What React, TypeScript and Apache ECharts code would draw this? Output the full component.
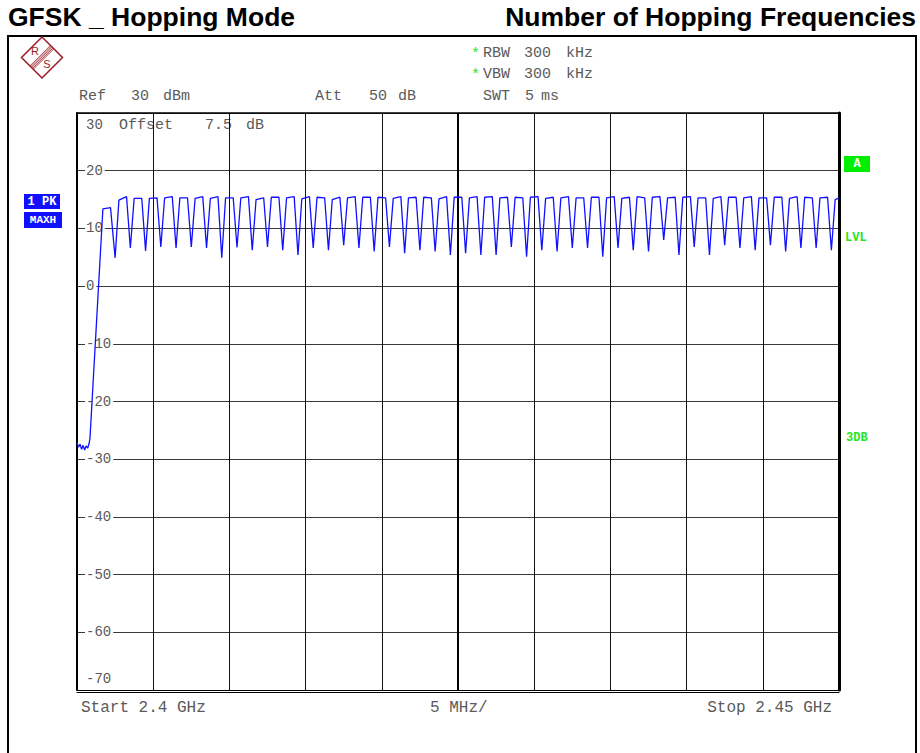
import React, { useEffect, useRef } from 'react';
import * as echarts from 'echarts';

// ---- data (MHz / dBm) ----
const FLOOR_MHZ = [2400.0, 2400.1, 2400.2, 2400.3, 2400.4, 2400.5, 2400.6, 2400.7, 2400.8];
const FLOOR_DBM = [-27.1, -27.9, -27.4, -28.3, -27.6, -28.4, -27.7, -28.1, -27.2];
const RAMP_MHZ = [2400.85, 2401.7, 2402.2];
const RAMP_DBM = [-26.4, 13.4, 13.6];
const DIP_MHZ = [
  2402.5, 2403.5, 2404.5, 2405.5, 2406.5, 2407.5, 2408.5, 2409.5, 2410.5, 2411.5,
  2412.5, 2413.5, 2414.5, 2415.5, 2416.5, 2417.5, 2418.5, 2419.5, 2420.5, 2421.5,
  2422.5, 2423.5, 2424.5, 2425.5, 2426.5, 2427.5, 2428.5, 2429.5, 2430.5, 2431.5,
  2432.5, 2433.5, 2434.5, 2435.5, 2436.5, 2437.5, 2438.5, 2439.5, 2440.5, 2441.5,
  2442.5, 2443.5, 2444.5, 2445.5, 2446.5, 2447.5, 2448.5, 2449.5,
];
const DIP_DBM = [
  4.9, 6.6, 6.1, 6.8, 6.6, 6.8, 6.6, 4.9, 6.7, 6.2,
  6.8, 6.2, 5.4, 6.6, 6.2, 7.1, 6.6, 6.0, 6.8, 5.7,
  6.2, 6.0, 5.4, 5.7, 5.4, 5.4, 6.8, 5.1, 6.2, 6.0,
  6.6, 6.6, 5.1, 6.6, 6.2, 6.0, 8.0, 5.4, 6.8, 5.4,
  7.1, 6.6, 6.2, 7.1, 6.0, 6.6, 6.6, 6.2,
];
const CHANNEL_MHZ = [
  2403, 2404, 2405, 2406, 2407, 2408, 2409, 2410, 2411, 2412,
  2413, 2414, 2415, 2416, 2417, 2418, 2419, 2420, 2421, 2422,
  2423, 2424, 2425, 2426, 2427, 2428, 2429, 2430, 2431, 2432,
  2433, 2434, 2435, 2436, 2437, 2438, 2439, 2440, 2441, 2442,
  2443, 2444, 2445, 2446, 2447, 2448, 2449,
];
const TOP_LEFT_DBM = [
  14.9, 15.2, 15.2, 15.3, 15.3, 15.2, 15.2, 15.3, 15.3, 15.0,
  15.4, 15.3, 15.1, 15.4, 15.0, 15.3, 15.4, 15.4, 15.2, 15.3,
  15.4, 15.1, 15.4, 15.3, 15.4, 15.3, 15.4, 15.4, 15.2, 15.3,
  15.3, 15.4, 15.3, 15.2, 15.5, 15.4, 15.3, 15.4, 15.3, 15.2,
  15.4, 15.3, 15.3, 15.4, 15.2, 15.4, 15.3,
];
const TOP_RIGHT_DBM = [
  15.5, 15.2, 15.3, 15.5, 15.3, 15.5, 15.5, 15.3, 15.5, 15.3,
  15.4, 15.5, 15.5, 15.3, 15.4, 15.5, 15.4, 15.3, 15.5, 15.4,
  15.3, 15.5, 15.4, 15.5, 15.5, 15.4, 15.3, 15.5, 15.4, 15.5,
  15.3, 15.4, 15.5, 15.4, 15.3, 15.5, 15.4, 15.5, 15.3, 15.5,
  15.4, 15.5, 15.3, 15.4, 15.5, 15.3, 15.4,
];
const END_MHZ = [2449.75, 2450];
const END_DBM = [15.0, 15.3];

const X_MIN = 2400;
const X_MAX = 2450;
const Y_MIN = -70;
const Y_MAX = 30;

function buildTrace(): number[][] {
  const pts: number[][] = [];
  FLOOR_MHZ.forEach((f, i) => pts.push([f, FLOOR_DBM[i]]));
  RAMP_MHZ.forEach((f, i) => pts.push([f, RAMP_DBM[i]]));
  DIP_MHZ.forEach((f, i) => {
    pts.push([f, DIP_DBM[i]]);
    if (i < CHANNEL_MHZ.length) {
      const c = CHANNEL_MHZ[i];
      pts.push([c - 0.25, TOP_LEFT_DBM[i]]);
      pts.push([c + 0.25, TOP_RIGHT_DBM[i]]);
    }
  });
  END_MHZ.forEach((f, i) => pts.push([f, END_DBM[i]]));
  return pts;
}

const MONO = '"Liberation Mono", "DejaVu Sans Mono", monospace';
const GRAY = '#5a5a5a';
const GREEN = '#22e622';
const BLUE = '#1010ff';

function monoText(text: string, x: number, y: number, fill = GRAY, size = 15, extra: any = {}) {
  return {
    type: 'text',
    silent: true,
    style: { text, x, y, fill, font: `${size}px ${MONO}`, align: 'left', verticalAlign: 'middle', ...extra },
  };
}

export default function App() {
  const ref = useRef<HTMLDivElement>(null);

  useEffect(() => {
    document.body.style.margin = '0';
    const chart = echarts.init(ref.current!, undefined, { renderer: 'svg' });
    const logoColor = '#9b1c23';
    const stripes = [-2.4, -1.2, 0, 1.2, 2.4].map((o) => ({
      type: 'line',
      silent: true,
      shape: { x1: 31.5 + o * 0.707, y1: 67.75 + o * 0.707, x2: 52 + o * 0.707, y2: 47.25 + o * 0.707 },
      style: { stroke: logoColor, lineWidth: 0.8 },
    }));

    const option: any = {
      animation: false,
      backgroundColor: '#ffffff',
      grid: { left: 77, top: 113, width: 762, height: 577, outerBoundsMode: 'none' },
      xAxis: [
        {
          type: 'value', position: 'bottom', min: X_MIN, max: X_MAX, interval: 5,
          axisLine: { show: true, onZero: false, lineStyle: { color: '#000', width: 1 } },
          axisTick: { show: false }, axisLabel: { show: false },
          splitLine: { show: true, lineStyle: { color: '#111', width: 1 } },
        },
        {
          type: 'value', position: 'top', min: X_MIN, max: X_MAX,
          axisLine: { show: true, onZero: false, lineStyle: { color: '#000', width: 1.5 } },
          axisTick: { show: false }, axisLabel: { show: false }, splitLine: { show: false },
        },
        {
          type: 'value', position: 'bottom', offset: 2, min: X_MIN, max: X_MAX, interval: 25,
          axisLine: { show: true, onZero: false, lineStyle: { color: '#000', width: 1 } },
          axisTick: { show: false }, axisLabel: { show: false },
          splitLine: { show: true, lineStyle: { color: '#000', width: 2 } },
        },
      ],
      yAxis: [
        {
          type: 'value', position: 'left', min: Y_MIN, max: Y_MAX, interval: 10,
          axisLine: { show: true, onZero: false, lineStyle: { color: '#000', width: 2 } },
          axisTick: { show: false }, axisLabel: { show: false },
          splitLine: { show: true, lineStyle: { color: '#3a3a3a', width: 1 } },
        },
        {
          type: 'value', position: 'left', min: Y_MIN, max: Y_MAX, interval: 10, z: 1,
          axisLine: { show: false, onZero: false }, axisTick: { show: false }, splitLine: { show: false },
          axisLabel: {
            show: true, inside: true, margin: 8,
            formatter: (v: number) => (v === Y_MAX ? `{t|${v}}` : v === Y_MIN ? `{b|${v}}` : `{m|${v}}`),
            rich: {
              t: { fontFamily: MONO, fontSize: 14, color: GRAY, padding: [24, 0, 0, 1] },
              b: { fontFamily: MONO, fontSize: 14, color: GRAY, padding: [0, 0, 22, 1] },
              m: { fontFamily: MONO, fontSize: 14, color: GRAY, backgroundColor: '#fff', padding: [0, 2, 0, 1] },
            },
          },
        },
        {
          type: 'value', position: 'right', min: Y_MIN, max: Y_MAX,
          axisLine: { show: true, onZero: false, lineStyle: { color: '#000', width: 3 } },
          axisTick: { show: false }, axisLabel: { show: false }, splitLine: { show: false },
        },
      ],
      series: [
        {
          type: 'line',
          xAxisIndex: 0,
          yAxisIndex: 0,
          data: buildTrace(),
          showSymbol: false,
          symbol: 'none',
          lineStyle: { color: BLUE, width: 1.3 },
          z: 3,
        },
      ],
      graphic: [
        // titles
        { type: 'text', silent: true, style: { text: 'GFSK _ Hopping Mode', x: 8, y: 17, fill: '#000', font: 'bold 26.5px "Liberation Sans", Arial, sans-serif', align: 'left', verticalAlign: 'middle' } },
        { type: 'text', silent: true, style: { text: 'Number of Hopping Frequencies', x: 916, y: 17, fill: '#000', font: 'bold 26.5px "Liberation Sans", Arial, sans-serif', align: 'right', verticalAlign: 'middle' } },
        // outer frame
        { type: 'rect', silent: true, shape: { x: 8, y: 36, width: 908, height: 740 }, style: { fill: 'none', stroke: '#000', lineWidth: 2 } },
        // R&S logo
        { type: 'polygon', silent: true, shape: { points: [[42, 37], [62.5, 57.5], [42, 78], [21.5, 57.5]] }, style: { fill: 'none', stroke: logoColor, lineWidth: 1.5 } },
        ...stripes,
        { type: 'text', silent: true, style: { text: 'R', x: 35, y: 51, fill: logoColor, font: '11px "Liberation Sans", sans-serif', align: 'center', verticalAlign: 'middle' } },
        { type: 'text', silent: true, style: { text: 'S', x: 47, y: 64, fill: logoColor, font: '11px "Liberation Sans", sans-serif', align: 'center', verticalAlign: 'middle' } },
        // header settings
        monoText('*', 471, 54, GREEN, 15),
        monoText('RBW', 483, 53), monoText('300', 524, 53), monoText('kHz', 566, 53),
        monoText('*', 471, 75, GREEN, 15),
        monoText('VBW', 483, 74), monoText('300', 524, 74), monoText('kHz', 566, 74),
        monoText('Ref', 79, 96), monoText('30', 131, 96), monoText('dBm', 163, 96),
        monoText('Att', 315, 96), monoText('50', 369, 96), monoText('dB', 398, 96),
        monoText('SWT', 483, 96), monoText('5', 525, 96), monoText('ms', 541, 96),
        monoText('Offset', 119, 125), monoText('7.5', 205, 125), monoText('dB', 246, 125),
        // bottom annotations
        monoText('Start 2.4 GHz', 81, 708, GRAY, 16),
        monoText('5 MHz/', 430, 708, GRAY, 16),
        monoText('Stop 2.45 GHz', 832, 708, GRAY, 16, { align: 'right' }),
        // trace badges
        { type: 'rect', silent: true, shape: { x: 24, y: 194, width: 36, height: 15 }, style: { fill: BLUE } },
        monoText('1 PK', 42, 202, '#fff', 12, { align: 'center', font: `bold 12px ${MONO}` }),
        { type: 'rect', silent: true, shape: { x: 24, y: 212, width: 38, height: 16 }, style: { fill: BLUE } },
        monoText('MAXH', 43, 220, '#fff', 11, { align: 'center', font: `bold 11px ${MONO}` }),
        { type: 'rect', silent: true, shape: { x: 844, y: 156, width: 26, height: 16 }, style: { fill: '#00ee00' } },
        monoText('A', 857, 164, '#fff', 12, { align: 'center', font: `bold 12px ${MONO}` }),
        monoText('LVL', 845, 238, GREEN, 12, { font: `bold 12px ${MONO}` }),
        monoText('3DB', 846, 438, GREEN, 12, { font: `bold 12px ${MONO}` }),
      ],
    };
    chart.setOption(option);
    return () => chart.dispose();
  }, []);

  return <div ref={ref} style={{ width: 920, height: 753 }} />;
}
